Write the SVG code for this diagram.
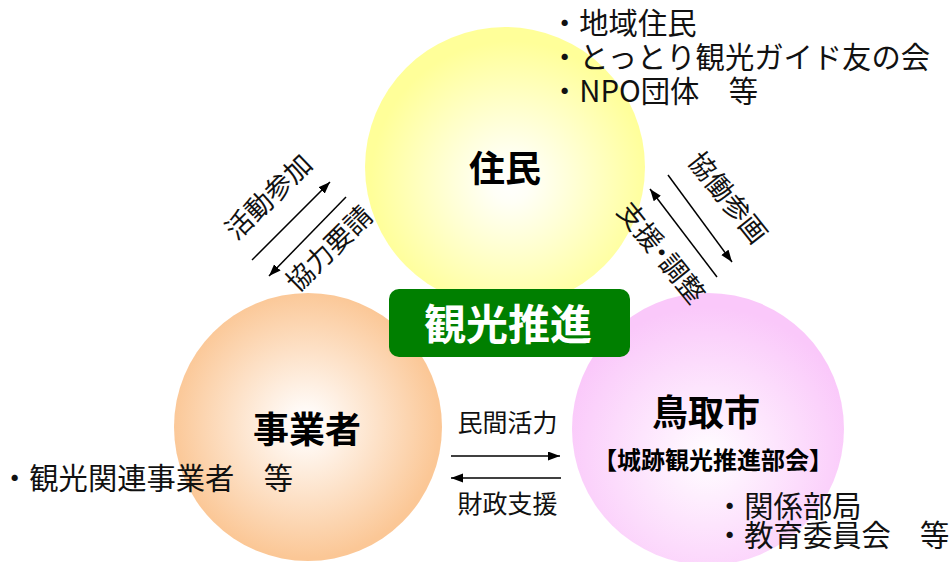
<svg xmlns="http://www.w3.org/2000/svg" width="951" height="562" viewBox="0 0 951 562">
<style>
.t{font-family:"Noto Sans CJK JP","Noto Sans",sans-serif;fill:#111;}
.n{font-size:29.3px;}
.m{font-size:25px;}
.r{font-size:27px;}
.b{font-family:"Noto Sans CJK JP","Noto Sans",sans-serif;font-weight:bold;fill:#000;text-anchor:middle;}
.ln{stroke:#000;stroke-width:1.5;fill:none;marker-end:url(#ah);}
</style>
<defs>
<radialGradient id="gy" cx="0.52" cy="0.55" r="0.5">
<stop offset="0" stop-color="#FFFFFF"/>
<stop offset="0.15" stop-color="#FFFFF6"/>
<stop offset="1" stop-color="#FFFF99"/>
</radialGradient>
<radialGradient id="go" cx="0.49" cy="0.49" r="0.5">
<stop offset="0" stop-color="#FFFFFF"/>
<stop offset="0.1" stop-color="#FFFBF8"/>
<stop offset="1" stop-color="#FBC796"/>
</radialGradient>
<radialGradient id="gp" cx="0.5" cy="0.6" r="0.55">
<stop offset="0" stop-color="#FFFFFF"/>
<stop offset="0.1" stop-color="#FFF8FF"/>
<stop offset="1" stop-color="#FAC8FA"/>
</radialGradient>
<marker id="ah" markerUnits="userSpaceOnUse" markerWidth="13" markerHeight="10" refX="12" refY="4.5" orient="auto">
<path d="M0,0 L12,4.5 L0,9 z" fill="#000"/>
</marker>
</defs>

<g id="node-jumin">
<circle cx="505" cy="167" r="140" fill="url(#gy)"/>
<text class="b" x="505" y="182" font-size="36">住民</text>
<text class="t n" x="550" y="34">・地域住民</text>
<text class="t n" x="550" y="68">・とっとり観光ガイド友の会</text>
<text class="t n" x="550" y="102">・NPO団体　等</text>
</g>

<g id="node-jigyousha">
<circle cx="308" cy="427" r="134" fill="url(#go)"/>
<text class="b" x="307" y="443" font-size="36">事業者</text>
<text class="t n" x="0" y="489">・観光関連事業者　等</text>
</g>

<g id="node-tottori">
<circle cx="708" cy="429" r="136" fill="url(#gp)"/>
<text class="b" x="706" y="426" font-size="36">鳥取市</text>
<text class="b" x="713" y="469" font-size="24">【城跡観光推進部会】</text>
<text class="t n" x="715" y="517">・関係部局</text>
<text class="t n" x="715" y="546">・教育委員会　等</text>
</g>

<g id="connectors">
<line class="ln" x1="252" y1="260" x2="330" y2="182"/>
<line class="ln" x1="346" y1="197" x2="269" y2="276"/>
<line class="ln" x1="668" y1="175" x2="732" y2="262"/>
<line class="ln" x1="717" y1="277" x2="650" y2="189"/>
<line class="ln" x1="451" y1="456" x2="560" y2="456"/>
<line class="ln" x1="561" y1="478" x2="451" y2="478"/>
<text class="t r" text-anchor="middle" x="268.5" y="206.5" transform="rotate(-44 268.5 196.5)">活動参加</text>
<text class="t r" text-anchor="middle" x="329" y="258.5" transform="rotate(-44.5 329 248.5)">協力要請</text>
<text class="t r" text-anchor="middle" x="728" y="207.5" transform="rotate(51.5 728 197.5)">協働参画</text>
<text class="t r" text-anchor="middle" x="661.5" y="262.5" transform="rotate(51 661.5 252.5)">支援<tspan dx="-7">・</tspan><tspan dx="-7">調整</tspan></text>
<text class="t m" text-anchor="middle" x="507.5" y="432">民間活力</text>
<text class="t m" text-anchor="middle" x="507.5" y="513">財政支援</text>
</g>

<g id="label-kanko">
<rect x="389" y="289" width="241" height="68" rx="10" ry="10" fill="#007F00"/>
<text x="508" y="340" font-size="42" font-family="'Noto Sans CJK JP','Noto Sans',sans-serif" font-weight="bold" fill="#FFFFFF" text-anchor="middle">観光推進</text>
</g>
</svg>
